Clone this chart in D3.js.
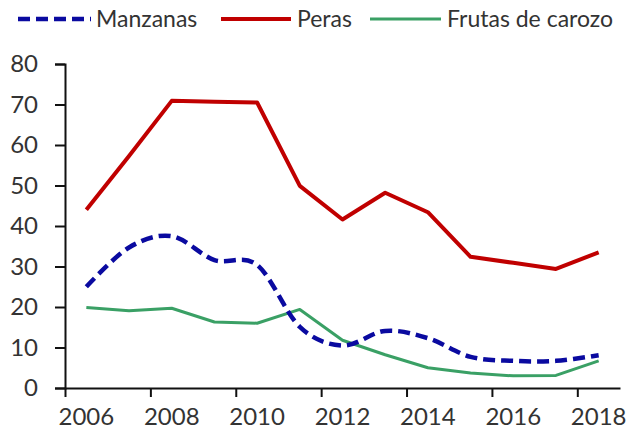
<!DOCTYPE html>
<html>
<head>
<meta charset="utf-8">
<script src="https://cdn.jsdelivr.net/npm/d3@7"></script>
<style>
  body { margin: 0; background: #fff; }
  text { font-family: Lato, "Noto Sans", sans-serif; fill: #333; }
</style>
</head>
<body>
<svg id="chart"></svg>
<script>
const years = [2006, 2007, 2008, 2009, 2010, 2011, 2012, 2013, 2014, 2015, 2016, 2017, 2018];
const manzanas = [25, 34.7, 37.5, 31.6, 30.4, 15.1, 10.5, 14.1, 12.3, 7.7, 6.7, 6.7, 8.1];
const peras = [44, 57.3, 70.9, 70.7, 70.5, 49.9, 41.6, 48.2, 43.4, 32.4, 30.9, 29.4, 33.5];
const carozo = [19.9, 19.1, 19.7, 16.3, 16, 19.4, 11.8, 8.2, 5, 3.7, 3, 3.1, 6.7];
const yTicks = [0, 10, 20, 30, 40, 50, 60, 70, 80];
const labelYears = [2006, 2008, 2010, 2012, 2014, 2016, 2018];

const w = 631, h = 437;
const mLeft = 65, mRight = 620, mTop = 64, mBottom = 388;

const svg = d3.select("#chart").attr("width", w).attr("height", h);

// category axis: one slot per year
const xIdx = d3.scaleLinear().domain([0, years.length]).range([mLeft, mRight]);
const x = yr => xIdx(years.indexOf(yr) + 0.5);
const y = d3.scaleLinear().domain([0, 80]).range([mBottom, mTop]);

// y axis
const yAxis = svg.append("g")
  .attr("transform", `translate(${mLeft},0)`)
  .call(d3.axisLeft(y).tickValues(yTicks).tickSize(10).tickPadding(17));
yAxis.select(".domain").attr("stroke", "#111").attr("stroke-width", 2);
yAxis.selectAll(".tick line").attr("stroke", "#111").attr("stroke-width", 2);
yAxis.selectAll(".tick text").style("font-size", "24px").attr("fill", "#333");

// x axis: ticks every 2 categories on slot borders, labels centred
const xAxis = svg.append("g")
  .attr("transform", `translate(0,${mBottom})`)
  .call(d3.axisBottom(xIdx).tickValues(d3.range(0, 13, 2)).tickSize(9).tickSizeOuter(0).tickFormat(""));
xAxis.select(".domain").attr("stroke", "#111").attr("stroke-width", 2);
xAxis.selectAll(".tick line").attr("stroke", "#111").attr("stroke-width", 2);

svg.append("g").selectAll("text")
  .data(labelYears)
  .enter()
  .append("text")
    .attr("x", d => x(d))
    .attr("y", 425)
    .attr("text-anchor", "middle")
    .style("font-size", "24px")
    .text(d => d);

const series = [
  { name: "Manzanas", values: manzanas, color: "#0a0aa0", width: 4.5, dash: "12,6", curve: d3.curveCardinal.tension(0) },
  { name: "Peras", values: peras, color: "#c00000", width: 4, dash: null, curve: d3.curveLinear },
  { name: "Frutas de carozo", values: carozo, color: "#3aa065", width: 3, dash: null, curve: d3.curveLinear }
];

// draw order: green, red, blue on top
[series[2], series[1], series[0]].forEach(s => {
  const line = d3.line().x((d, i) => x(years[i])).y(d => y(d)).curve(s.curve);
  svg.append("path")
    .datum(s.values)
    .attr("d", line)
    .attr("fill", "none")
    .attr("stroke", s.color)
    .attr("stroke-width", s.width)
    .attr("stroke-dasharray", s.dash)
    .attr("stroke-linejoin", "round");
});

// legend
const legendX = [[18, 91, 96], [221, 291, 297], [370, 441, 447]];
const legend = svg.append("g");
series.forEach((s, i) => {
  const [x0, x1, tx] = legendX[i];
  legend.append("line")
    .attr("x1", x0).attr("x2", x1).attr("y1", 19).attr("y2", 19)
    .attr("stroke", s.color)
    .attr("stroke-width", s.width)
    .attr("stroke-dasharray", s.dash);
  legend.append("text")
    .attr("x", tx).attr("y", 27)
    .style("font-size", "23px")
    .text(s.name);
});
</script>
</body>
</html>
